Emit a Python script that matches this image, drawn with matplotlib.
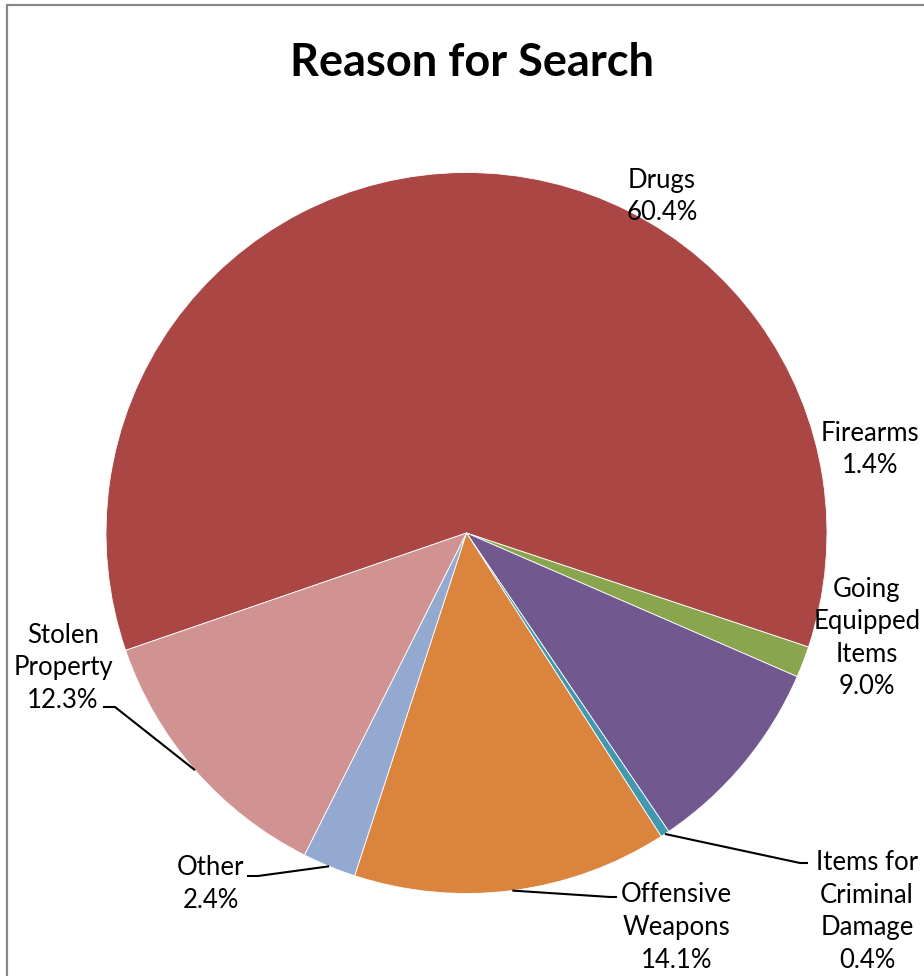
import numpy as np
import matplotlib
matplotlib.use("Agg")
import matplotlib.pyplot as plt
from matplotlib.patches import Rectangle

plt.rcParams["font.family"] = ["Lato", "DejaVu Sans"]

# Data (percent of searches)
categories = ["Drugs", "Firearms", "Going\nEquipped\nItems", "Items for\nCriminal\nDamage",
              "Offensive\nWeapons", "Other", "Stolen\nProperty"]
shares = [60.4, 1.4, 9.0, 0.4, 14.1, 2.4, 12.3]
colors = ["#AA4643", "#89A54E", "#71588F", "#4198AF", "#DB843D", "#93A9CF", "#D19392"]

# Layout in pixel units (origin bottom-left, figure is 924 x 976 px)
W, H = 924, 976
CENTER = (466.5, H - 533)
RADIUS = 360.5
START = 199.0

# label block centre (x, y from top) and optional leader elbow / end points
label_pos = [(662, 196.5), (870, 449.5), (867, 638), (867, 911.5),
             (676.5, 927.5), (211, 884), (63, 668)]
leaders = [None, None, None,
           [(800, 863), (808, 863)],
           [(610, 897), (617, 897)],
           [(258, 876), (247, 876)],
           [(115, 707), (103, 707)]]

fig = plt.figure(figsize=(W / 100, H / 100), dpi=100)
ax = fig.add_axes([0, 0, 1, 1])

wedges, _ = ax.pie(shares, colors=colors, startangle=START, counterclock=False,
                   center=CENTER, radius=RADIUS,
                   wedgeprops=dict(edgecolor="white", linewidth=0.6))

for w, name, val, pos, lead in zip(wedges, categories, shares, label_pos, leaders):
    ax.text(pos[0], H - pos[1], f"{name}\n{val:.1f}%", ha="center", va="center",
            fontsize=18.5, linespacing=1.38, color="black")
    if lead is not None:
        mid = np.deg2rad(0.5 * (w.theta1 + w.theta2))
        ax_pt = (CENTER[0] + RADIUS * np.cos(mid), CENTER[1] + RADIUS * np.sin(mid))
        xs = [ax_pt[0]] + [p[0] for p in lead]
        ys = [ax_pt[1]] + [H - p[1] for p in lead]
        ax.plot(xs, ys, color="black", linewidth=1.5, solid_capstyle="butt")

ax.text(472, H - 63, "Reason for Search", ha="center", va="center",
        fontsize=32.5, fontweight="bold", color="black")

# chart area border (right and bottom sides are cut off in the reference)
ax.add_patch(Rectangle((7, -50), W + 100, H - 4.5 + 50, fill=False,
                       edgecolor="#878787", linewidth=1.6))

ax.set_xlim(0, W)
ax.set_ylim(0, H)
ax.set_aspect("equal")
ax.axis("off")

fig.savefig("out.png", dpi=100, facecolor="white")
